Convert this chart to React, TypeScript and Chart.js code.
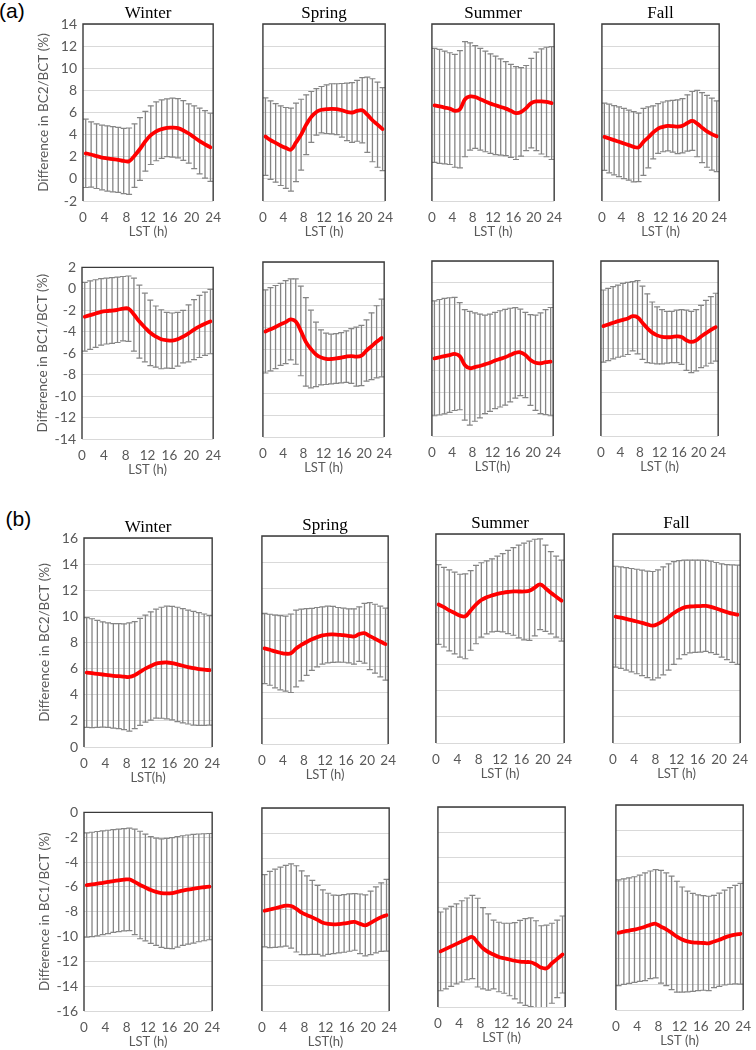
import React, { useEffect, useRef } from 'react';
import { Chart, registerables } from 'chart.js';

Chart.register(...registerables);

// ---------- data ----------
const HOURS = [0.5, 1.5, 2.5, 3.5, 4.5, 5.5, 6.5, 7.5, 8.5, 9.5, 10.5, 11.5, 12.5, 13.5, 14.5, 15.5, 16.5, 17.5, 18.5, 19.5, 20.5, 21.5, 22.5, 23.5];
const SEASONS = ['Winter', 'Spring', 'Summer', 'Fall'];
const Y_TITLE_BC2 = 'Difference in BC2/BCT (%)';
const Y_TITLE_BC1 = 'Difference in BC1/BCT (%)';
const X_TITLES_A_TOP = ['LST (h)', 'LST (h)', 'LST (h)', 'LST (h)'];
const X_TITLES_A_BOTTOM = ['LST (h)', 'LST (h)', 'LST(h)', 'LST (h)'];
const X_TITLES_B_TOP = ['LST(h)', 'LST (h)', 'LST (h)', 'LST (h)'];
const X_TITLES_B_BOTTOM = ['LST (h)', 'LST(h)', 'LST (h)', 'LST (h)'];
const Y_RANGE_A_BC2 = [-2, 14];
const Y_RANGE_A_BC1 = [-14, 2];
const Y_RANGE_B_BC2 = [0, 16];
const Y_RANGE_B_BC1 = [-16, 0];

// (a) BC2/BCT  mean and standard deviation
const A_BC2_WINTER_MEAN = [2.31, 2.2, 2.05, 1.93, 1.85, 1.78, 1.72, 1.62, 1.6, 2.1, 2.7, 3.4, 3.95, 4.3, 4.5, 4.62, 4.63, 4.58, 4.38, 4.1, 3.76, 3.42, 3.12, 2.85];
const A_BC2_WINTER_SD = [3.09, 2.95, 2.92, 2.92, 2.95, 2.95, 2.94, 2.95, 3.0, 2.87, 2.84, 2.7, 2.65, 2.66, 2.64, 2.61, 2.67, 2.68, 2.7, 2.68, 2.84, 2.97, 3.05, 3.08];
const A_BC2_SPRING_MEAN = [3.82, 3.5, 3.25, 3.0, 2.8, 2.65, 3.3, 4.0, 4.9, 5.6, 6.05, 6.25, 6.3, 6.33, 6.3, 6.2, 6.05, 6.0, 6.15, 6.2, 5.8, 5.3, 4.9, 4.5];
const A_BC2_SPRING_SD = [3.5, 3.55, 3.55, 3.6, 3.65, 3.75, 3.55, 3.2, 2.7, 2.3, 2.1, 2.1, 2.2, 2.27, 2.3, 2.42, 2.6, 2.7, 2.75, 2.95, 3.4, 3.75, 3.85, 3.75];
const A_BC2_SUMMER_MEAN = [6.65, 6.55, 6.45, 6.35, 6.15, 6.3, 7.2, 7.45, 7.4, 7.2, 7.0, 6.8, 6.65, 6.5, 6.35, 6.15, 5.95, 6.05, 6.4, 6.85, 7.0, 7.0, 6.95, 6.85];
const A_BC2_SUMMER_SD = [5.15, 5.15, 5.1, 5.05, 5.1, 5.3, 5.2, 4.85, 4.65, 4.6, 4.55, 4.5, 4.45, 4.35, 4.25, 4.2, 4.2, 4.0, 3.85, 4.05, 4.45, 4.75, 4.95, 5.1];
const A_BC2_FALL_MEAN = [3.8, 3.65, 3.5, 3.35, 3.2, 3.05, 2.9, 2.85, 3.35, 3.75, 4.2, 4.55, 4.7, 4.79, 4.76, 4.72, 4.8, 5.05, 5.24, 5.0, 4.63, 4.3, 4.05, 3.85];
const A_BC2_FALL_SD = [3.04, 3.1, 3.13, 3.15, 3.17, 3.17, 3.18, 3.1, 3.03, 2.75, 2.4, 2.25, 2.25, 2.26, 2.34, 2.43, 2.45, 2.55, 2.66, 3.0, 3.17, 3.25, 3.25, 3.2];

// (a) BC1/BCT
const A_BC1_WINTER_MEAN = [-2.6, -2.45, -2.3, -2.15, -2.07, -2.02, -1.95, -1.85, -1.85, -2.4, -3.05, -3.6, -4.1, -4.45, -4.7, -4.8, -4.83, -4.7, -4.45, -4.15, -3.8, -3.5, -3.25, -3.05];
const A_BC1_WINTER_SD = [3.2, 3.2, 3.15, 3.1, 3.07, 3.07, 3.05, 3.0, 3.05, 3.4, 3.4, 3.2, 3.05, 2.85, 2.75, 2.6, 2.58, 2.5, 2.45, 2.65, 2.8, 2.9, 2.95, 3.0];
const A_BC1_SPRING_MEAN = [-4.35, -4.15, -3.95, -3.7, -3.5, -3.25, -3.45, -4.3, -5.3, -5.95, -6.45, -6.72, -6.85, -6.87, -6.82, -6.75, -6.65, -6.6, -6.65, -6.55, -6.1, -5.7, -5.3, -4.95];
const A_BC1_SPRING_SD = [3.8, 3.8, 3.8, 3.75, 3.8, 3.7, 3.9, 4.1, 4.05, 3.55, 2.95, 2.52, 2.35, 2.27, 2.27, 2.3, 2.35, 2.5, 2.7, 2.75, 2.8, 3.05, 3.3, 3.55];
const A_BC1_SUMMER_MEAN = [-6.9, -6.8, -6.7, -6.6, -6.5, -6.7, -7.5, -7.8, -7.7, -7.6, -7.45, -7.3, -7.1, -6.95, -6.8, -6.6, -6.4, -6.35, -6.6, -7.05, -7.3, -7.35, -7.25, -7.2];
const A_BC1_SUMMER_SD = [5.25, 5.28, 5.28, 5.24, 5.17, 4.9, 5.05, 5.2, 4.95, 4.75, 4.5, 4.45, 4.4, 4.4, 4.38, 4.28, 4.13, 3.95, 3.9, 4.15, 4.35, 4.6, 4.8, 4.95];
const A_BC1_FALL_MEAN = [-3.95, -3.8, -3.65, -3.5, -3.38, -3.25, -3.05, -3.15, -3.65, -4.15, -4.55, -4.8, -4.93, -4.97, -4.95, -4.9, -4.95, -5.25, -5.4, -5.25, -4.9, -4.6, -4.3, -4.05];
const A_BC1_FALL_SD = [3.3, 3.3, 3.3, 3.3, 3.33, 3.3, 3.17, 3.35, 3.35, 3.15, 2.8, 2.6, 2.48, 2.37, 2.35, 2.4, 2.5, 2.75, 2.8, 2.8, 2.85, 3.0, 3.05, 3.1];

// (b) BC2/BCT
const B_BC2_WINTER_MEAN = [5.7, 5.65, 5.6, 5.55, 5.5, 5.45, 5.42, 5.38, 5.36, 5.5, 5.75, 6.0, 6.2, 6.38, 6.45, 6.47, 6.42, 6.32, 6.22, 6.12, 6.03, 5.97, 5.92, 5.88];
const B_BC2_WINTER_SD = [4.2, 4.17, 4.1, 4.03, 4.0, 4.0, 4.02, 4.05, 4.14, 4.1, 4.1, 4.1, 4.15, 4.17, 4.25, 4.31, 4.35, 4.38, 4.38, 4.36, 4.35, 4.31, 4.26, 4.2];
const B_BC2_SPRING_MEAN = [7.35, 7.25, 7.12, 7.02, 6.95, 6.98, 7.35, 7.62, 7.85, 8.05, 8.22, 8.35, 8.42, 8.43, 8.4, 8.37, 8.32, 8.27, 8.45, 8.52, 8.3, 8.1, 7.88, 7.68];
const B_BC2_SPRING_SD = [2.7, 2.73, 2.8, 2.85, 2.89, 3.02, 2.95, 2.76, 2.57, 2.39, 2.28, 2.2, 2.18, 2.15, 2.1, 2.08, 2.08, 2.13, 2.1, 2.3, 2.58, 2.65, 2.72, 2.77];
const B_BC2_SUMMER_MEAN = [10.6, 10.4, 10.15, 9.95, 9.75, 9.7, 10.15, 10.6, 10.95, 11.15, 11.3, 11.42, 11.5, 11.56, 11.6, 11.6, 11.6, 11.65, 11.9, 12.15, 11.85, 11.5, 11.2, 10.9];
const B_BC2_SUMMER_SD = [3.05, 3.05, 3.1, 3.13, 3.17, 3.25, 3.05, 3.0, 2.85, 2.8, 2.8, 2.88, 3.0, 3.19, 3.35, 3.55, 3.7, 3.8, 3.7, 3.47, 3.3, 3.15, 3.1, 3.1];
const B_BC2_FALL_MEAN = [9.67, 9.6, 9.5, 9.4, 9.3, 9.2, 9.08, 8.98, 9.12, 9.35, 9.65, 9.95, 10.2, 10.38, 10.45, 10.47, 10.48, 10.5, 10.42, 10.3, 10.15, 10.02, 9.9, 9.82];
const B_BC2_FALL_SD = [3.86, 3.88, 3.92, 3.96, 4.0, 4.04, 4.08, 4.15, 4.13, 4.13, 4.07, 3.93, 3.76, 3.62, 3.55, 3.53, 3.52, 3.48, 3.5, 3.52, 3.57, 3.64, 3.73, 3.8];

// (b) BC1/BCT
const B_BC1_WINTER_MEAN = [-5.85, -5.8, -5.74, -5.67, -5.6, -5.53, -5.47, -5.42, -5.4, -5.6, -5.85, -6.05, -6.25, -6.4, -6.5, -6.53, -6.5, -6.4, -6.3, -6.22, -6.15, -6.08, -6.03, -5.98];
const B_BC1_WINTER_SD = [4.2, 4.2, 4.2, 4.18, 4.16, 4.14, 4.13, 4.12, 4.13, 4.25, 4.33, 4.3, 4.3, 4.32, 4.37, 4.43, 4.47, 4.45, 4.42, 4.4, 4.38, 4.34, 4.31, 4.28];
const B_BC1_SPRING_MEAN = [-8.1, -8.0, -7.9, -7.8, -7.7, -7.72, -7.95, -8.25, -8.45, -8.62, -8.82, -9.05, -9.13, -9.17, -9.15, -9.1, -9.03, -8.98, -9.13, -9.25, -9.05, -8.82, -8.6, -8.45];
const B_BC1_SPRING_SD = [2.85, 3.0, 3.08, 3.14, 3.18, 3.32, 3.4, 3.3, 3.1, 2.92, 2.72, 2.6, 2.41, 2.3, 2.27, 2.27, 2.26, 2.23, 2.35, 2.4, 2.5, 2.6, 2.7, 2.83];
const B_BC1_SUMMER_MEAN = [-11.55, -11.35, -11.15, -10.95, -10.75, -10.55, -10.4, -10.85, -11.3, -11.6, -11.8, -12.0, -12.1, -12.2, -12.3, -12.37, -12.4, -12.42, -12.6, -12.85, -12.9, -12.5, -12.15, -11.8];
const B_BC1_SUMMER_SD = [3.15, 3.2, 3.2, 3.2, 3.25, 3.27, 3.33, 3.55, 3.25, 3.05, 2.75, 2.78, 2.8, 2.9, 3.05, 3.3, 3.47, 3.55, 3.5, 3.35, 3.45, 3.2, 3.1, 3.08];
const B_BC1_FALL_MEAN = [-9.97, -9.88, -9.8, -9.72, -9.62, -9.5, -9.35, -9.27, -9.5, -9.7, -9.98, -10.28, -10.5, -10.65, -10.72, -10.75, -10.77, -10.8, -10.65, -10.52, -10.35, -10.22, -10.12, -10.05];
const B_BC1_FALL_SD = [4.12, 4.12, 4.12, 4.12, 4.14, 4.2, 4.2, 4.23, 4.4, 4.4, 4.43, 4.33, 4.1, 3.93, 3.82, 3.73, 3.69, 3.68, 3.6, 3.64, 3.7, 3.77, 3.84, 3.93];

// ---------- layout (plot-area rectangles: left, top, right, bottom) ----------
const RECTS_A_TOP = [[83, 24, 220, 201], [256, 24, 392, 201], [425, 24, 561, 201], [595, 24, 726, 201]];
const RECTS_A_BOTTOM = [[82, 263, 220, 439], [256, 262, 391, 437], [425, 261, 560, 436], [594, 261, 725, 436]];
const RECTS_B_TOP = [[84, 538, 219, 747], [255, 536, 395, 744], [429, 534, 571, 743], [606, 534, 747, 743]];
const RECTS_B_BOTTOM = [[84, 808, 219, 1011], [255, 808, 396, 1011], [431, 807, 572, 1007], [609, 805, 750, 1010]];

// ---------- styles ----------
const RED = '#ff0000';
const BAR_GRAY = '#858585';
const TICK_COLOR = '#595959';
const GRID_COLOR = '#d9d9d9';
const FRAME_COLOR = '#3a3a3a';
const SANS = 'Lato, "Noto Sans", sans-serif';
const SERIF = '"Liberation Serif", "Times New Roman", serif';

type PanelSpec = {
  mean: number[];
  sd: number[];
  range: number[];
  title: string | null;
  yTitle: string | null;
  xTitle: string;
  rect: number[];
};

const framePlugin = {
  id: 'frame',
  afterDatasetsDraw(chart: any) {
    const { ctx, chartArea } = chart;
    const { left, top, right, bottom } = chartArea;
    ctx.save();
    ctx.strokeStyle = FRAME_COLOR;
    ctx.lineWidth = 1.4;
    ctx.beginPath();
    ctx.moveTo(left, bottom);
    ctx.lineTo(left, top);
    ctx.lineTo(right, top);
    ctx.lineTo(right, bottom);
    ctx.stroke();
    ctx.restore();
  },
};

function Panel({ spec }: { spec: PanelSpec }) {
  const ref = useRef<HTMLCanvasElement | null>(null);
  const [l, t, r, b] = spec.rect;
  const yw = spec.yTitle ? 52 : 6;
  const th = spec.title ? 22 : 10;
  const rp = 10;
  const xh = 40;
  const w = Math.round(r - l + yw + rp);
  const h = Math.round(th + (b - t) + xh);

  useEffect(() => {
    const { mean, sd } = spec;
    const line = HOURS.map((x, i) => ({ x, y: mean[i] }));
    const bars = HOURS.map((x, i) => ({ x, y: [mean[i] - sd[i], mean[i] + sd[i]] }));
    const lows = HOURS.map((x, i) => ({ x, y: mean[i] - sd[i] }));
    const highs = HOURS.map((x, i) => ({ x, y: mean[i] + sd[i] }));
    const cap = {
      type: 'line',
      showLine: false,
      pointStyle: 'line',
      pointRadius: 3,
      pointBorderWidth: 1.2,
      pointBorderColor: BAR_GRAY,
      borderColor: BAR_GRAY,
      backgroundColor: BAR_GRAY,
      order: 2,
    };
    const chart = new Chart(ref.current as HTMLCanvasElement, {
      type: 'line',
      data: {
        datasets: [
          {
            type: 'line',
            data: line,
            borderColor: RED,
            borderWidth: 3.8,
            pointRadius: 0,
            tension: 0.4,
            borderCapStyle: 'round',
            borderJoinStyle: 'round',
            order: 0,
          },
          {
            type: 'bar',
            data: bars,
            backgroundColor: BAR_GRAY,
            borderWidth: 0,
            barThickness: 1.3,
            inflateAmount: 0,
            order: 3,
          },
          { ...cap, data: lows },
          { ...cap, data: highs },
        ] as any,
      },
      options: {
        responsive: false,
        animation: false,
        events: [],
        layout: { padding: { top: spec.title ? 0 : th, right: rp, left: 0, bottom: 0 } },
        plugins: {
          legend: { display: false },
          tooltip: { enabled: false },
          title: {
            display: !!spec.title,
            text: spec.title || '',
            fullSize: false,
            color: '#000',
            font: { family: SERIF, size: 17, weight: 'normal', lineHeight: 1.2 },
            padding: { top: 1.6, bottom: 0 },
          },
        },
        scales: {
          x: {
            type: 'linear',
            min: 0,
            max: 24,
            offset: false,
            ticks: {
              stepSize: 4,
              color: TICK_COLOR,
              font: { family: SANS, size: 13.5 },
              padding: 9,
              maxRotation: 0,
              autoSkip: false,
            },
            grid: { display: false, drawTicks: false },
            border: { display: false },
            title: {
              display: true,
              text: spec.xTitle,
              color: TICK_COLOR,
              font: { family: SANS, size: 13 },
              padding: { top: 0, bottom: 1.2 },
            },
            afterFit: (s: any) => {
              s.height = xh;
            },
          },
          y: {
            type: 'linear',
            min: spec.range[0],
            max: spec.range[1],
            ticks: {
              stepSize: 2,
              display: !!spec.yTitle,
              color: TICK_COLOR,
              font: { family: SANS, size: 14 },
              padding: 6,
            },
            grid: { color: GRID_COLOR, lineWidth: 1, drawTicks: false },
            border: { display: false },
            title: {
              display: !!spec.yTitle,
              text: spec.yTitle || '',
              color: TICK_COLOR,
              font: { family: SANS, size: 13.5 },
              padding: { top: 4.4, bottom: 0 },
            },
            afterFit: (s: any) => {
              s.width = yw;
            },
          },
        },
      } as any,
      plugins: [framePlugin],
    });
    return () => chart.destroy();
  }, [spec]);

  return (
    <canvas
      ref={ref}
      width={w}
      height={h}
      style={{ position: 'absolute', left: l - yw, top: t - th, width: w, height: h }}
    />
  );
}

function buildRow(
  means: number[][],
  sds: number[][],
  range: number[],
  withTitles: boolean,
  yTitle: string,
  xTitles: string[],
  rects: number[][]
): PanelSpec[] {
  return SEASONS.map((season, i) => ({
    mean: means[i],
    sd: sds[i],
    range,
    title: withTitles ? season : null,
    yTitle: i === 0 ? yTitle : null,
    xTitle: xTitles[i],
    rect: rects[i],
  }));
}

const PANELS: PanelSpec[] = [
  ...buildRow(
    [A_BC2_WINTER_MEAN, A_BC2_SPRING_MEAN, A_BC2_SUMMER_MEAN, A_BC2_FALL_MEAN],
    [A_BC2_WINTER_SD, A_BC2_SPRING_SD, A_BC2_SUMMER_SD, A_BC2_FALL_SD],
    Y_RANGE_A_BC2, true, Y_TITLE_BC2, X_TITLES_A_TOP, RECTS_A_TOP
  ),
  ...buildRow(
    [A_BC1_WINTER_MEAN, A_BC1_SPRING_MEAN, A_BC1_SUMMER_MEAN, A_BC1_FALL_MEAN],
    [A_BC1_WINTER_SD, A_BC1_SPRING_SD, A_BC1_SUMMER_SD, A_BC1_FALL_SD],
    Y_RANGE_A_BC1, false, Y_TITLE_BC1, X_TITLES_A_BOTTOM, RECTS_A_BOTTOM
  ),
  ...buildRow(
    [B_BC2_WINTER_MEAN, B_BC2_SPRING_MEAN, B_BC2_SUMMER_MEAN, B_BC2_FALL_MEAN],
    [B_BC2_WINTER_SD, B_BC2_SPRING_SD, B_BC2_SUMMER_SD, B_BC2_FALL_SD],
    Y_RANGE_B_BC2, true, Y_TITLE_BC2, X_TITLES_B_TOP, RECTS_B_TOP
  ),
  ...buildRow(
    [B_BC1_WINTER_MEAN, B_BC1_SPRING_MEAN, B_BC1_SUMMER_MEAN, B_BC1_FALL_MEAN],
    [B_BC1_WINTER_SD, B_BC1_SPRING_SD, B_BC1_SUMMER_SD, B_BC1_FALL_SD],
    Y_RANGE_B_BC1, false, Y_TITLE_BC1, X_TITLES_B_BOTTOM, RECTS_B_BOTTOM
  ),
];

export default function App() {
  const labelStyle: React.CSSProperties = {
    position: 'absolute',
    fontFamily: '"Liberation Sans", Arial, sans-serif',
    fontSize: 21,
    lineHeight: '21px',
    color: '#000',
    whiteSpace: 'nowrap',
  };
  return (
    <div
      style={{
        position: 'absolute',
        left: 0,
        top: 0,
        width: 756,
        height: 1050,
        overflow: 'hidden',
        background: '#fff',
      }}
    >
      <div style={{ ...labelStyle, left: -1, top: -0.5 }}>(a)</div>
      <div style={{ ...labelStyle, left: 5.5, top: 507.5 }}>(b)</div>
      {PANELS.map((p, i) => (
        <Panel key={i} spec={p} />
      ))}
    </div>
  );
}
